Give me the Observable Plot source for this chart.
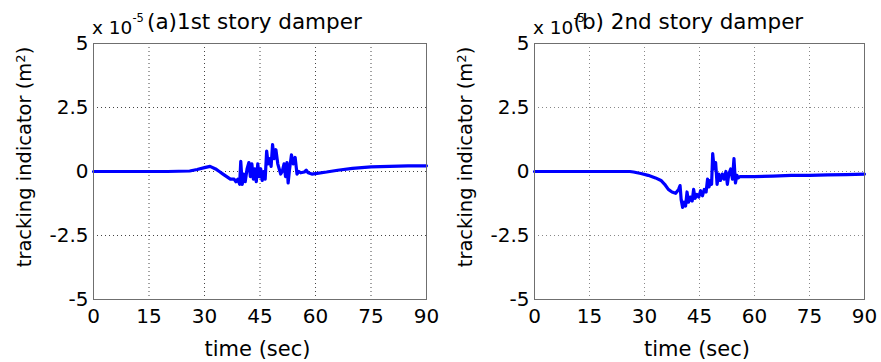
<!DOCTYPE html>
<html>
<head>
<meta charset="utf-8">
<script src="https://cdn.jsdelivr.net/npm/d3@7"></script>
<script src="https://cdn.jsdelivr.net/npm/@observablehq/plot@0.6"></script>
<style>
  html, body { margin: 0; padding: 0; background: #fff; }
  #wrap { display: flex; width: 881px; height: 362px; }
</style>
</head>
<body>
<div id="wrap"></div>
<script>
// ---- data (values in units of 1e-5 m^2) ----
const xTicks = [0, 15, 30, 45, 60, 75, 90];
const yTicks = [-5, -2.5, 0, 2.5, 5];

const titleA = "(a)1st story damper";
const titleB = "(b) 2nd story damper";

// 1st story damper
const timeA = [0, 10, 20, 26, 28, 30, 31.5, 33, 34, 35, 36, 37, 38, 38.5, 39, 39.5, 39.8, 40.2, 40.6, 41, 41.5, 42, 42.4, 42.8, 43.2, 43.6, 44, 44.4, 44.8, 45.2, 45.6, 46, 46.4, 46.8, 47.2, 47.6, 48, 48.4, 48.8, 49.3, 49.8, 50.2, 50.6, 51, 51.5, 51.9, 52.3, 52.6, 53, 53.5, 54, 54.5, 55, 55.5, 56, 57, 57.5, 58, 59, 60, 63, 66, 70, 75, 80, 85, 90];
const valA  = [0, 0, 0, 0.02, 0.08, 0.15, 0.2, 0.1, 0.0, -0.1, -0.2, -0.3, -0.3, -0.4, -0.3, -0.5, 0.4, -0.5, -0.1, -0.4, 0.1, 0.35, -0.2, 0.3, -0.3, 0.1, -0.4, 0.3, -0.2, 0.1, -0.35, 0.0, -0.3, 0.8, 0.3, 0.5, 0.2, 1.05, 0.5, 0.85, 0.3, 0.1, -0.1, 0.0, 0.3, -0.2, 0.35, -0.45, 0.1, 0.65, 0.3, 0.55, -0.1, 0.0, -0.05, -0.02, 0.05, -0.05, -0.1, -0.08, -0.02, 0.05, 0.12, 0.18, 0.2, 0.22, 0.22];

// 2nd story damper
const timeB = [0, 10, 20, 26, 27, 29, 31, 33, 34.5, 35.5, 36.5, 37.5, 38.5, 39.3, 39.7, 40, 40.4, 40.8, 41.2, 41.6, 42, 42.5, 43, 43.4, 43.8, 44.3, 44.8, 45.3, 45.8, 46.3, 46.8, 47.2, 47.6, 48, 48.3, 48.6, 49, 49.4, 49.8, 50.2, 50.7, 51.2, 51.7, 52.2, 52.6, 53, 53.5, 54, 54.4, 54.8, 55.2, 55.6, 56, 60, 65, 70, 75, 80, 85, 90];
const valB  = [0, 0, 0, 0, -0.02, -0.08, -0.15, -0.25, -0.35, -0.5, -0.7, -0.8, -0.85, -0.7, -0.55, -1.1, -1.4, -1.2, -1.35, -0.8, -1.2, -1.0, -1.15, -0.7, -1.05, -0.9, -1.0, -0.75, -0.95, -0.7, -0.8, -0.3, -0.6, -0.35, -0.5, 0.7, 0.1, 0.35, -0.5, -0.1, -0.35, -0.1, -0.3, 0.0, -0.5, -0.1, 0.1, -0.3, 0.5, -0.45, -0.15, -0.25, -0.2, -0.2, -0.18, -0.15, -0.15, -0.13, -0.12, -0.1];

const FONT = "DejaVu Sans";

function panel({time, val, title, width, marginLeft, marginRight, gridColor, titleX, ylabX}) {
  const data = time.map((t, i) => ({t, v: val[i]}));
  const svg = Plot.plot({
    width, height: 362,
    marginLeft, marginRight, marginTop: 43, marginBottom: 63,
    style: {fontFamily: FONT, fontSize: "20px", background: "white", color: "black", overflow: "visible"},
    x: {domain: [0, 90]},
    y: {domain: [-5, 5]},
    marks: [
      Plot.gridX(xTicks.slice(1, -1), {stroke: gridColor, strokeOpacity: 1, strokeDasharray: "1,3"}),
      Plot.gridY(yTicks.slice(1, -1), {stroke: gridColor, strokeOpacity: 1, strokeDasharray: "1,3"}),
      Plot.line(data, {x: "t", y: "v", stroke: "#0000ff", strokeWidth: 3.2, strokeLinejoin: "round"}),
      Plot.frame({stroke: "#6f6f6f"}),
      Plot.axisX(xTicks, {tickSize: 0, tickPadding: 9, label: null, tickFormat: d => String(d), fontSize: 20}),
      Plot.axisY(yTicks, {tickSize: 0, tickPadding: 5, label: null, tickFormat: d => String(d), fontSize: 20})
    ]
  });
  const s = d3.select(svg);
  const fx0 = marginLeft, fx1 = width - marginRight;
  // exponent
  const ex = s.append("text").attr("x", fx0 - 1).attr("y", 33.5).attr("text-anchor", "start")
    .attr("font-family", FONT).attr("font-size", 18.5).attr("fill", "black");
  ex.append("tspan").text("x 10");
  ex.append("tspan").attr("dy", -12).attr("font-size", 11.5).text("-5");
  // title
  s.append("text").attr("x", titleX).attr("y", 29).attr("text-anchor", "start")
    .attr("font-family", FONT).attr("font-size", 21.5).attr("fill", "black").text(title);
  // x label
  s.append("text").attr("x", (fx0 + fx1) / 2 - 2).attr("y", 355.5).attr("text-anchor", "middle")
    .attr("font-family", FONT).attr("font-size", 21).attr("fill", "black").text("time (sec)");
  // y label
  const yl = s.append("text").attr("transform", `translate(${ylabX},157) rotate(-90)`)
    .attr("text-anchor", "middle").attr("font-family", FONT).attr("font-size", 19.5).attr("fill", "black");
  yl.append("tspan").text("tracking indicator (m");
  yl.append("tspan").attr("dy", "-0.5em").attr("font-size", 13).text("2");
  yl.append("tspan").attr("dy", "0.33em").text(")");
  return svg;
}

const wrap = document.getElementById("wrap");
wrap.appendChild(panel({time: timeA, val: valA, title: titleA, width: 440, marginLeft: 93, marginRight: 14, gridColor: "#444", titleX: 147, ylabX: 31}));
wrap.appendChild(panel({time: timeB, val: valB, title: titleB, width: 441, marginLeft: 94, marginRight: 17, gridColor: "#888", titleX: 133.5, ylabX: 32}));
</script>
</body>
</html>
